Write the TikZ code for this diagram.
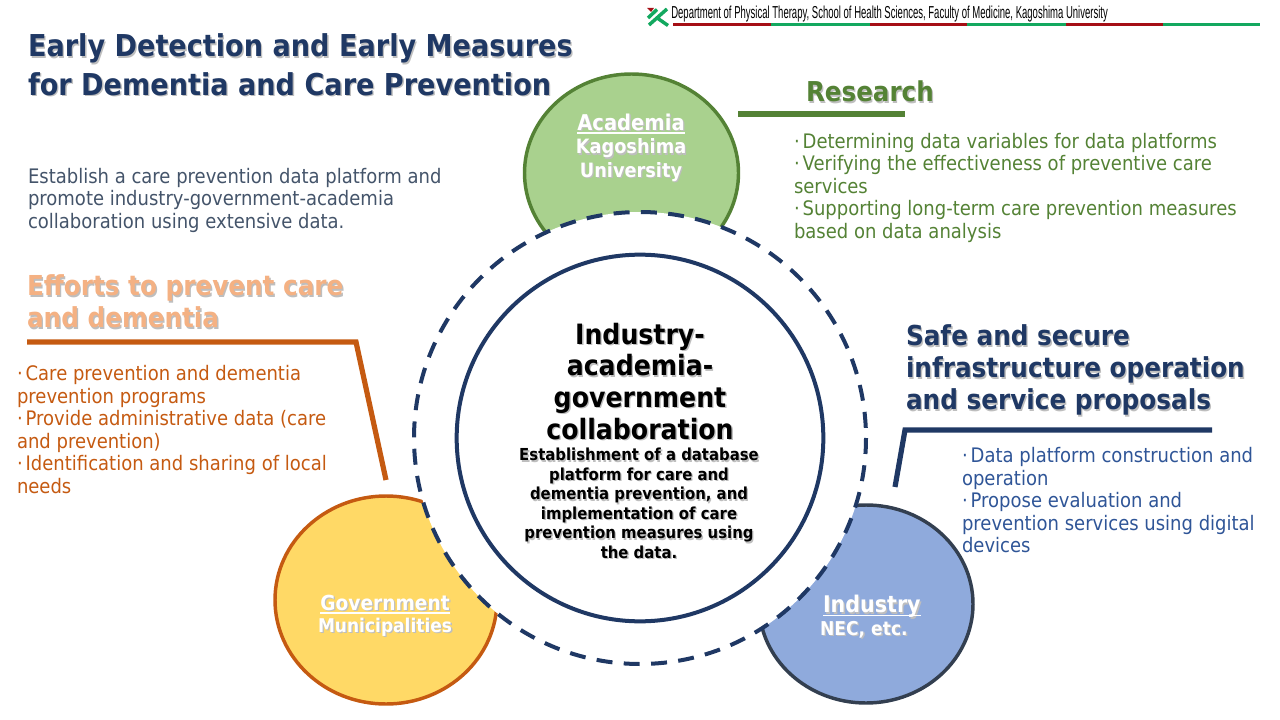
\documentclass[tikz,border=0pt]{standalone}
\usepackage{fontspec}
\usepackage{graphicx}
\usepackage{calc}
\newfontfamily\tah[FakeStretch=0.9]{DejaVu Sans}
\newfontfamily\hdr{Liberation Sans}
\definecolor{navy}{HTML}{1F3864}
\definecolor{slate}{HTML}{44546A}
\definecolor{rgreen}{HTML}{548235}
\definecolor{agreen}{HTML}{A9D18E}
\definecolor{rust}{HTML}{C55A11}
\definecolor{peach}{HTML}{F4B183}
\definecolor{gold}{HTML}{FFD966}
\definecolor{iblue}{HTML}{8FAADC}
\definecolor{idark}{HTML}{333F50}
\definecolor{ibody}{HTML}{2F5597}
\definecolor{bred}{HTML}{A50F15}
\definecolor{bgreen}{HTML}{13A85F}
\definecolor{shadowc}{HTML}{BEBEBE}
\newcommand{\shad}[1]{\leavevmode\rlap{\raisebox{-1pt}{\kern1pt\textcolor{shadowc}{#1}}}#1}
\newcommand{\ushad}[1]{\leavevmode\rlap{\raisebox{-1pt}{\kern1pt\textcolor{shadowc}{#1}}}#1\llap{\rule[-2.4pt]{\widthof{#1}}{0.9pt}}}
\newcommand{\fs}[2]{\fontsize{#1pt}{#2pt}\selectfont}
\newcommand{\dotb}{\textperiodcentered\kern2.2pt}
\tikzset{
  x=0.75pt,y=-0.75pt,
  txt/.style={inner sep=0pt,outer sep=0pt,align=left,font=\tah\fs{15}{16.9}},
  ttl/.style 2 args={inner sep=0pt,outer sep=0pt,align=left,font=\tah\bfseries\fs{#1}{#2}},
  ctr/.style 2 args={inner sep=0pt,outer sep=0pt,align=center,font=\tah\bfseries\fs{#1}{#2},text=white},
  lead/.style={line width=3.9pt,line join=miter},
}
\begin{document}
\begin{tikzpicture}
\useasboundingbox (0,0) rectangle (1280,720);
% petals
\path[fill=agreen,draw=rgreen,line width=2.6pt] (631.5,173) ellipse [x radius=107,y radius=99];
\path[fill=gold,draw=rust,line width=2.6pt] (386,600) ellipse [x radius=111,y radius=104];
\path[fill=iblue,draw=idark,line width=2.6pt] (866,604) ellipse [x radius=107,y radius=99];
% hub
\path[fill=white] (640,438) circle [radius=226];
\draw[navy,line width=3pt,dash pattern=on 12pt off 8.5pt] (640,438) circle [radius=226];
\node[circle,draw=navy,line width=3pt,fill=white,minimum size=275pt,inner sep=0pt] (hub) at (640,438) {};
% header
\draw[bgreen,line width=2.6pt] (648,18) -- (657,9.5) (649,25) -- (667,9) (656.5,17.5) -- (668,25.5);
\fill[bred] (647,8) -- (654,8) -- (651,12) -- cycle;
\node[inner sep=0pt,anchor=west] (dept) at (671,14) {\resizebox{327.5pt}{9.4pt}{\hdr\fontsize{10pt}{10pt}\selectfont Department of Physical Therapy, School of Health Sciences, Faculty of Medicine, Kagoshima University}};
\foreach \a/\b/\c in {673/771/bred,771/870/bgreen,870/967/bred,967/1066/bgreen,1066/1163/bred,1163/1260/bgreen}
  \fill[\c] (\a,22.8) rectangle (\b,25.6);
% titles
\node[ttl={22.6}{28.6},text=navy,anchor=north west] (title) at (28,34) {\shad{Early Detection and Early Measures}\\\shad{for Dementia and Care Prevention}};
\node[txt,text=slate,anchor=north west] (intro) at (28,168) {Establish a care prevention data platform and\\promote industry-government-academia\\collaboration using extensive data.};
% research
\node[ttl={20.5}{25},text=rgreen,anchor=north west] (rhead) at (806,81) {\shad{Research}};
\draw[rgreen,lead] (738,114) -- (905,114);
\node[txt,text=rgreen,anchor=north west] (rbody) at (794,133) {\dotb Determining data variables for data platforms\\\dotb Verifying the effectiveness of preventive care\\services\\\dotb Supporting long-term care prevention measures\\based on data analysis};
% efforts
\node[ttl={20.6}{24},text=peach,anchor=north west] (ehead) at (27,275) {\shad{Efforts to prevent care}\\\shad{and dementia}};
\draw[rust,lead] (27,342) -- (356,342) -- (386,480);
\node[txt,text=rust,anchor=north west] (ebody) at (17,365.5) {\dotb Care prevention and dementia\\prevention programs\\\dotb Provide administrative data (care\\and prevention)\\\dotb Identification and sharing of local\\needs};
% safe
\node[ttl={20.6}{24},text=navy,anchor=north west] (shead) at (906,325) {\shad{Safe and secure}\\\shad{infrastructure operation}\\\shad{and service proposals}};
\draw[navy,lead] (895,487) -- (905,430) -- (1212,430);
\node[txt,text=ibody,anchor=north west] (sbody) at (962,447.5) {\dotb Data platform construction and\\operation\\\dotb Propose evaluation and\\prevention services using digital\\devices};
% petal labels
\node[ctr={14.8}{17.6}] (aca) at (631,148.5) {\fs{16.3}{17.6}\ushad{Academia}\\\shad{Kagoshima}\\\shad{University}};
\node[ctr={14.2}{16.5},anchor=north west] (gov) at (318,595) {\fs{15.5}{16.5}\ushad{Government}\\\shad{Municipalities}};
\node[ctr={17.2}{17},anchor=north west] (ind) at (823,595.5) {\ushad{Industry}};
\node[ctr={14.3}{16},anchor=north west] (nec) at (820,621) {\shad{NEC, etc.}};
% hub text
\node[ctr={21}{23.7},text=black] (hubh) at (640,382) {\shad{Industry-}\\\shad{academia-}\\\shad{government}\\\shad{collaboration}};
\node[ctr={12.4}{14.6},text=black] (hubb) at (639,504) {\shad{Establishment of a database}\\\shad{platform for care and}\\\shad{dementia prevention, and}\\\shad{implementation of care}\\\shad{prevention measures using}\\\shad{the data.}};
\end{tikzpicture}
\end{document}
